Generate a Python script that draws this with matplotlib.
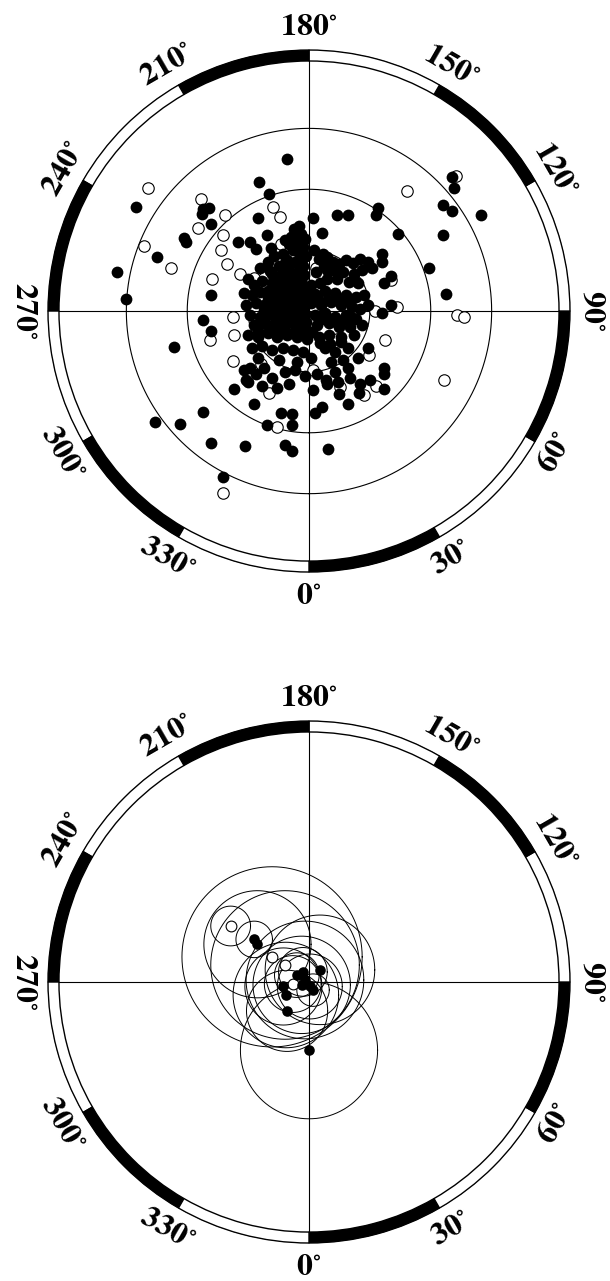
import numpy as np
import matplotlib
matplotlib.use('Agg')
import matplotlib.pyplot as plt

plt.rcParams['mathtext.fontset'] = 'stix'

# pole positions on the projection, degrees from the centre
# u points toward 90 deg, v toward 180 deg
top_filled_u = [-5.3, -12.3, -9.9, -42.5, -47.3, -45.2, -37.4, -30.8, -30.2, -26.1, -24.6, -26.4, -24.2,
                -12.6, -10.3, -14.5, -13.0, -17.4, 35.3, 35.7, 32.9, 35.3, 42.3, 32.9, 29.5, 33.8, 16.9,
                16.4, 22.0, 6.8, 9.5, 1.0, 3.2, -33.3, -37.9, -31.7, -26.1, -24.2, -15.7, -5.8, -4.3, 4.6,
                -21.3, -10.3, -4.3, -6.8, -4.3, 1.4, 3.1, 9.5, 12.4, 18.6, 18.6, 18.6, -24.2, -26.1, -24.2,
                -18.4, -13.5, -14.5, -15.5, 20.3, 17.9, 20.3, 17.9, 17.9, 18.6, 14.5, 9.5, 7.2, 4.3,
                # core
                -3.5, -2.0, -1.0, -3.0, -5.0, -1.5, -4.0, -6.5, -2.5, -0.8, -8.5, -5.5, -3.5, -10.0, -12.0,
                -7.5, -1.5, -9.5, -5.0, -2.8,
                2.5, 4.5, 6.0, 3.8, 5.5, 7.5, 9.0, 10.8, 12.5, 8.5, 11.0, 13.0, 6.8, 9.8, 12.0, 4.5, 2.8,
                14.5, 15.5,
                -15.0, -13.5, -11.5, -9.0, -7.0, -4.5, -2.0, 0.5, -16.0, -14.0, -12.0, -10.0, -8.0, -6.0,
                -3.5, -1.0, 1.5, 4.0, 6.5, 9.0, 11.5, 13.5, -15.5, -13.0, -11.0, -8.5, -6.5, -4.0, -2.0,
                0.5, 3.0, 5.5, 8.0, 10.5, 12.5, 14.5, -14.5, -12.0, -9.5, -7.0, -5.0, -3.0, -1.0, 1.5,
                4.0, 6.5, 9.0, 11.5, -13.5, -11.0, -8.5, -6.0, -3.5, -1.0, 2.0, 5.0, 7.5, 10.0, 13.0,
                -15.0, -12.5, -10.0, -8.0, -5.5, -3.0, -0.5, 2.5, 5.0, 8.0, 11.0, -14.0, -11.5, -9.0,
                -6.5, -4.0, -1.5, 4.0, 6.5, 9.5, -12.5, -7.5, -3.0, 0.5, 5.5, 8.5, 12.0,
                -16.0, -13.0, -11.0, -9.0, -6.0, -3.5, -11.5, -8.0, -5.0, 2.0, 4.5, 6.5, 10.0, 12.5,
                15.0, -15.0, -1.0, 1.0, 7.5,
                -5.5, -4.5, -3.0, -6.8, -2.0, -7.5, -4.2, -1.8,
                -9.2, -7.8, -6.2, -4.8, -3.2, -1.2, -8.8, -6.8, -5.2, -3.8, -2.2, -0.2, -10.2, -7.2,
                -5.8, -4.2, -2.6, -0.6, -11.2, -9.0, -7.0, -5.2, -3.6, -1.6, -10.8, -8.2, -6.4, -4.6,
                -2.8, -0.8, -12.6, -9.8, -7.6, -5.6, -3.4, -1.4, 0.8, -9.4, -6.0, -2.4, 1.2, 3.4,
                -2.6, -4.4, -3.6, -1.8, -6.0, -2.2,
                2.2, 4.8, 7.2, 9.6, 3.6, 6.0, 8.4, 10.8, 2.6, 5.2, 7.8, 1.8, 4.4, 7.0]
top_filled_v = [37.4, 31.9, 28.8, 25.6, 9.6, 2.9, 13.4, 17.9, 17.1, 25.2, 25.5, 23.8, 21.4,
                23.0, 18.7, 17.0, 15.2, 17.0, 32.9, 30.4, 26.1, 24.6, 23.7, 18.8, 10.6, 4.3, 25.3,
                23.7, 19.0, 23.7, 23.7, 23.0, 19.3, -8.9, -27.3, -27.8, -24.9, -32.4, -33.3, -33.0, -34.5, -34.0,
                -40.9, -28.0, -28.0, -25.1, -25.4, -25.1, -23.7, -22.9, -20.3, -19.3, -14.0, -15.5, 3.9, -2.2, -4.8,
                -19.3, -22.9, -14.0, -16.9, 1.4, -0.5, 8.7, 14.0, 12.1, 6.8, -9.2, -14.0, -17.4, -16.9,
                # core
                19.5, 19.0, 17.8, 17.0, 16.5, 15.8, 15.0, 14.0, 14.2, 13.5, 13.5, 12.5, 12.0, 12.2, 10.5,
                11.0, 11.2, 9.8, 10.0, 9.5,
                12.8, 13.2, 12.0, 11.0, 10.0, 11.5, 12.5, 11.8, 12.8, 9.5, 9.0, 10.0, 8.0, 7.2, 7.0, 8.0, 7.0,
                12.0, 10.5,
                8.0, 6.5, 7.5, 7.0, 8.0, 7.2, 7.5, 6.5, 4.5, 4.0, 4.8, 5.0, 4.5, 5.5,
                4.8, 4.5, 4.2, 5.0, 4.5, 4.0, 3.5, 4.0, 1.5, 2.0, 1.5, 2.0, 1.5, 2.2, 1.5,
                2.0, 1.5, 2.2, 1.5, 1.0, 0.5, 1.5, -1.0, -1.5, -0.8, -1.0, -0.5, -1.2, -0.8, -1.0,
                -0.5, -1.5, -1.0, -2.0, -3.5, -3.0, -3.8, -3.0, -3.5, -4.0, -3.5, -3.0, -4.0, -4.0, -3.5,
                -6.0, -6.5, -5.5, -6.5, -6.0, -6.5, -7.0, -6.5, -6.0, -6.5, -6.0, -9.0, -8.5, -9.5,
                -9.0, -9.5, -10.0, -9.0, -10.0, -9.0, -11.5, -12.0, -12.5, -11.5, -12.5, -12.0, -11.5,
                -14.5, -15.5, -14.0, -16.5, -15.0, -14.5, -18.5, -19.0, -18.0, -15.5, -18.0, -15.0, -16.5, -18.0,
                -17.0, -17.5, -16.0, -19.5, -20.5,
                3.5, 0.5, 6.0, 6.5, 3.0, -2.0, -2.0, -2.5,
                9.0, 8.4, 9.2, 8.6, 8.0, 8.8, 5.8, 6.2, 5.6, 6.4, 5.8, 5.2, 3.2, 3.0,
                3.6, 2.8, 3.4, 2.6, 0.2, 0.0, 0.4, 0.2, -0.2, 0.4, -2.6, -2.4, -2.0, -2.8,
                -2.2, -2.6, -5.0, -5.0, -4.6, -5.2, -4.8, -5.4, -5.2, 15.5, 17.5, 21.0, 15.0, 14.0,
                16.8, 18.2, 20.2, 12.8, 11.8, 7.0,
                3.0, 2.6, 3.2, 2.4, -2.0, -2.4, -2.2, -1.6, -7.8, -8.2, -7.6, 9.6, 10.2, 9.8]

top_open_u = [-39.6, -26.6, -20.6, -27.3, -40.6, -34.0, -21.3, -21.7, -20.3, -23.9, 24.2, 36.2, -8.9, -7.2,
              36.5, 38.2, 33.3, -21.1, -24.4, -18.4, -18.8, -18.8, 14.7, 18.8, 21.7, 16.2, 20.3, 13.5,
              16.4, 7.7, 1.0, -9.9, -7.9, -11.8, 6.8, -16.9, -13.5, -6.8, 1.7]
top_open_v = [30.4, 27.7, 23.7, 20.5, 15.9, 10.5, 18.8, 15.0, 11.6, 7.9, 29.5, 33.3, 25.6, 23.2,
              -1.0, -1.4, -17.1, -44.9, -7.2, -5.8, -1.4, -12.3, -10.9, -7.1, 1.0, 0.0, 7.7, -20.6,
              -18.4, -18.8, -14.5, -20.3, -28.5, -13.0, -6.8, 9.2, 8.2, 16.4, 10.6]

# site means with their alpha95 (degrees)
bot_u = [-19.3, -13.5, -12.7, -9.1, -5.9, 0.0, 2.7, -3.0, -1.0, 0.2, -1.8, -6.3, -5.7, -5.4, -1.5, 1.0, -4.0]
bot_v = [13.8, 10.5, 9.3, 6.2, 4.2, -16.8, 3.0, 1.7, 0.5, -1.1, -0.7, -1.1, -3.2, -7.1, 2.5, -2.0, -0.5]
bot_a95 = [4.9, 4.5, 13.2, 22.2, 18.3, 16.9, 13.5, 5.5, 14.5, 8.0, 12.0, 9.5, 13.0, 10.0, 6.0, 4.0, 7.0]
bot_filled = [False, True, True, False, False, True, True, True, True, True, True, True, True, True,
              True, True, False]

grid_circles = [15, 30, 45]
ring_inner, ring_outer, r_max = 61.6, 64.3, 64.6
label_r = 70.0
tick_angles = list(range(0, 360, 30))


def to_polar(u, v):
    u = np.asarray(u, dtype=float)
    v = np.asarray(v, dtype=float)
    return np.arctan2(u, -v), np.hypot(u, v)


def frame(ax, circles):
    ax.set_theta_zero_location('S')
    ax.set_theta_direction(1)
    ax.set_ylim(0, r_max)
    ax.grid(False)
    ax.set_xticks([])
    ax.set_yticks([])
    ax.spines['polar'].set_visible(False)

    centers = np.deg2rad(np.arange(15, 360, 30))
    colors = ['black' if i % 2 == 0 else 'white' for i in range(12)]
    ax.bar(centers, ring_outer - ring_inner, width=np.deg2rad(30), bottom=ring_inner,
           color=colors, edgecolor='black', linewidth=1.0, zorder=5)

    for t in [0, 90, 180, 270]:
        ax.plot([np.deg2rad(t)] * 2, [0, ring_inner], color='black', lw=0.8, zorder=1)
    full = np.linspace(0, 2 * np.pi, 400)
    for c in circles:
        ax.plot(full, np.full_like(full, c), color='black', lw=0.8, zorder=1)

    for a in tick_angles:
        rot = ((a + 90) % 180) - 90
        ax.text(np.deg2rad(a), label_r, r'$\mathbf{%d}^{\circ}$' % a, rotation=rot,
                rotation_mode='anchor', ha='center', va='center', fontsize=23,
                clip_on=False)


fig = plt.figure(figsize=(6.1, 12.81), dpi=100)
ax1 = fig.add_axes([0.0767, 0.5525, 0.8597, 0.4094], projection='polar')
ax2 = fig.add_axes([0.0767, 0.0287, 0.8597, 0.4094], projection='polar')

frame(ax1, grid_circles)
frame(ax2, [])

th, r = to_polar(top_open_u, top_open_v)
ax1.scatter(th, r, s=68, facecolor='white', edgecolor='black', linewidth=0.8, zorder=3)
th, r = to_polar(top_filled_u, top_filled_v)
ax1.scatter(th, r, s=72, color='black', linewidth=0, zorder=4)

t = np.linspace(0, 2 * np.pi, 721)
for u0, v0, a in zip(bot_u, bot_v, bot_a95):
    th, r = to_polar(u0 + a * np.cos(t), v0 + a * np.sin(t))
    ax2.plot(np.unwrap(th), r, color='black', lw=0.7, zorder=2)
for u0, v0, f in zip(bot_u, bot_v, bot_filled):
    th, r = to_polar([u0], [v0])
    if f:
        ax2.scatter(th, r, s=58, color='black', linewidth=0, zorder=4)
    else:
        ax2.scatter(th, r, s=60, facecolor='white', edgecolor='black', linewidth=0.8, zorder=3)

fig.savefig('out.png', dpi=100)
